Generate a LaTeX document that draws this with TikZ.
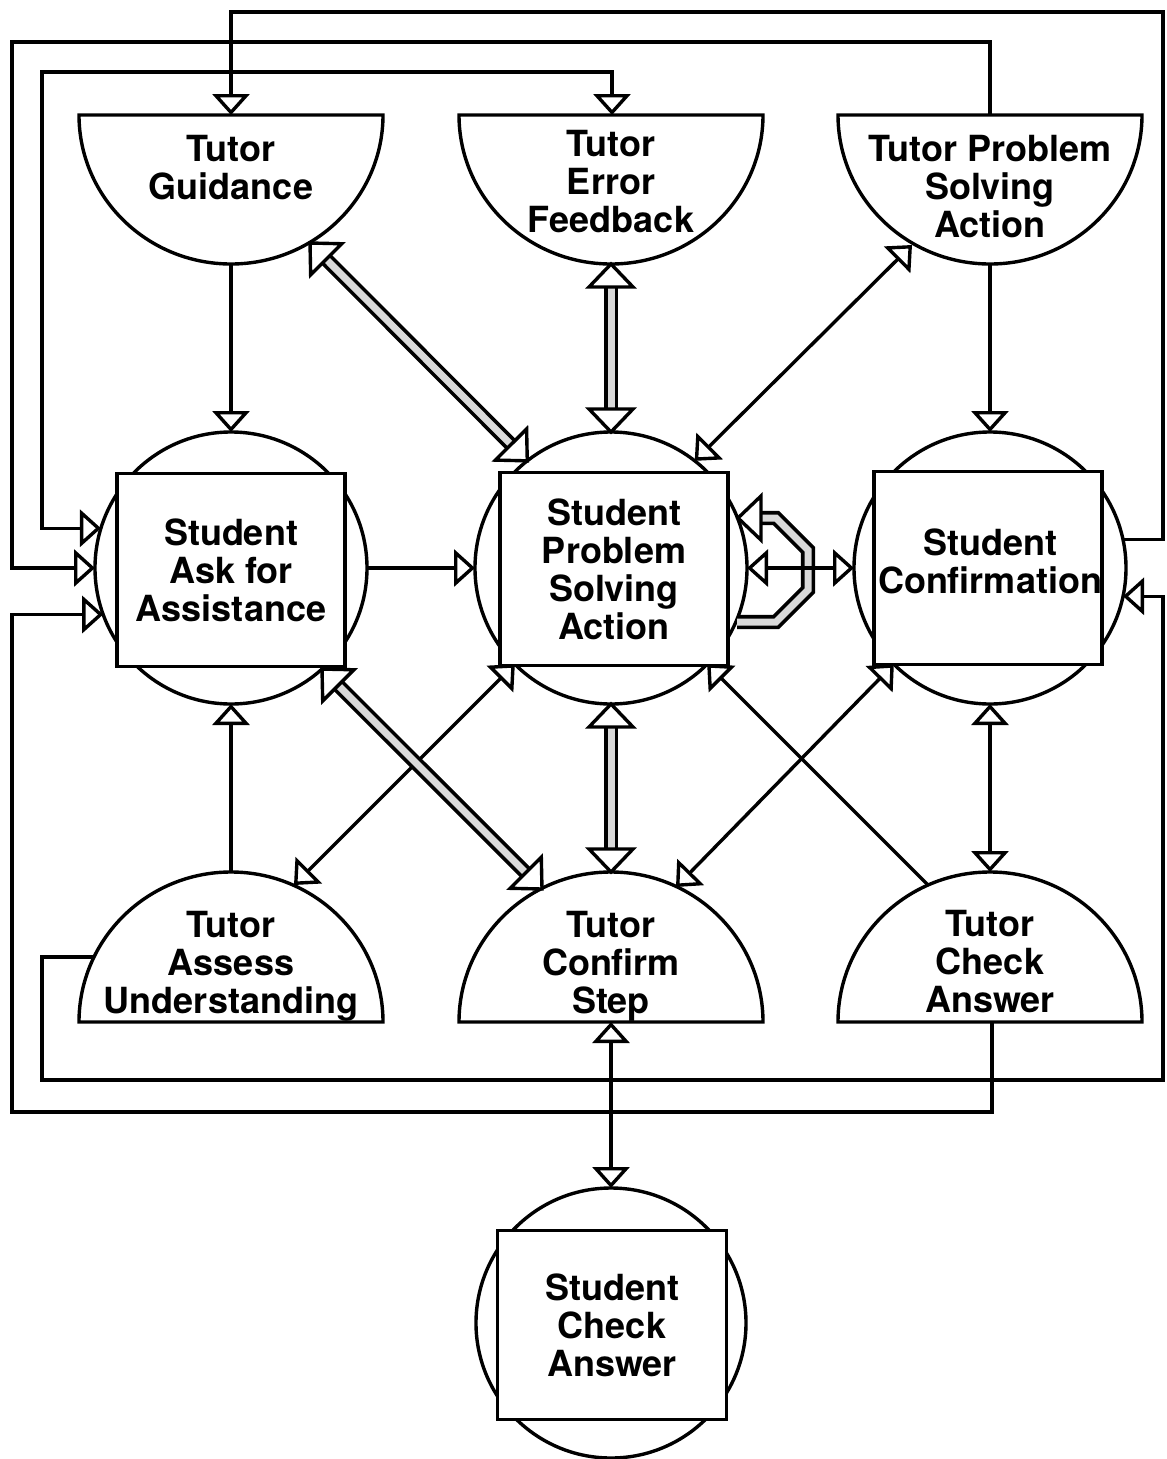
\documentclass[tikz,border=0pt]{standalone}
\usepackage{fontspec}
\setmainfont{TeX Gyre Heros}
\usetikzlibrary{arrows.meta,calc}
\newcommand{\dbltip}[2]{%
  \coordinate (dtB) at ($(#1)!23pt!(#2)$);
  \draw[line width=3.4pt, fill=white, line join=miter]
    (#1) -- ($(dtB)!22pt!90:(#1)$) -- ($(dtB)!22pt!-90:(#1)$) -- cycle;}
\newcommand{\dblconn}[2]{%
  \draw[dbl, shorten <=22pt, shorten >=22pt] (#1) -- (#2);
  \dbltip{#1}{#2}\dbltip{#2}{#1}}
\newcommand{\tophalf}[1]{%
  \draw[ln, fill=white] ($(#1)+(-152,0)$) -- ($(#1)+(152,0)$)
    arc[start angle=0, end angle=-180, x radius=152pt, y radius=149pt] -- cycle;}
\newcommand{\bothalf}[1]{%
  \draw[ln, fill=white] ($(#1)+(-152,0)$) -- ($(#1)+(152,0)$)
    arc[start angle=0, end angle=180, x radius=152pt, y radius=150pt] -- cycle;}
\begin{document}
\begin{tikzpicture}[x=1pt,y=-1pt,
  tri/.tip={Triangle[length=21pt,width=37pt,fill=white,line width=3.4pt]},
  ln/.style={line width=3.4pt, line join=miter},
  arr/.style={ln,-tri},
  barr/.style={ln,tri-tri},
  dbl/.style={line width=3.6pt, double=gray!30, double distance=7pt, line join=miter},
  lbl/.style={font=\fontsize{36}{38}\selectfont\bfseries, align=center, inner sep=0pt},
  scirc/.style={circle, draw, line width=3.4pt, minimum size=272pt, inner sep=0pt, outer sep=0pt},
  sbox/.style={rectangle, draw, fill=white, line width=3.4pt, minimum width=228pt,
    minimum height=193pt, inner sep=0pt, align=center, font=\fontsize{36}{38}\selectfont\bfseries},
]
\useasboundingbox (0,0) rectangle (1167,1459);

% tutor shapes (top row)
\tophalf{231,115}
\tophalf{611,115}
\tophalf{990,115}
\node[lbl] (tg) at (231,168) {Tutor\\Guidance};
\node[lbl] (tef) at (611,182) {Tutor\\Error\\Feedback};
\node[lbl] (tps) at (990,187) {Tutor Problem\\Solving\\Action};
% tutor shapes (bottom row)
\bothalf{231,1022}
\bothalf{611,1022}
\bothalf{990,1022}
\node[lbl] (tau) at (231,966) {Tutor\\Assess\\Understanding};
\node[lbl] (tcs) at (611,966) {Tutor\\Confirm\\Step};
\node[lbl] (tca) at (990,962) {Tutor\\Check\\Answer};

% student shapes
\node[scirc] (saaC) at (231,568) {};
\node[sbox] (saa) at (231,570) {Student\\Ask for\\Assistance};
\node[scirc] (spsC) at (611,568) {};
\node[sbox] (sps) at (614,569) {Student\\Problem\\Solving\\Action};
\node[scirc] (scC) at (990,568) {};
\node[sbox] (sc) at (988,568) {};
\node[lbl] (scl) at (990,561) {Student\\Confirmation};
\node[scirc, minimum size=270pt] (scaC) at (611,1323) {};
\node[sbox, minimum width=229pt, minimum height=189pt] (sca) at (612,1325) {Student\\Check\\Answer};

% attachment points on the half shapes
\coordinate (tgT) at (231,115);
\coordinate (tgB) at (231,264);
\coordinate (tgD) at (310,243);
\coordinate (tefT) at (612,115);
\coordinate (tefB) at (611,264);
\coordinate (tpsT) at (990,115);
\coordinate (tpsB) at (990,264);
\coordinate (tpsD) at (912,245);
\coordinate (tauT) at (231,872);
\coordinate (tauD) at (294,885);
\coordinate (tauL) at (94,957);
\coordinate (tcsT) at (611,872);
\coordinate (tcsB) at (611,1022);
\coordinate (tcsDL) at (542,889);
\coordinate (tcsDR) at (676,887);
\coordinate (tcaT) at (990,872);
\coordinate (tcaB) at (992,1022);
\coordinate (tcaD) at (928,885);

% outer feedback lines
\draw[arr] (scC.12) -| (1163,12) -| (tgT);
\draw[arr] (tpsT) |- (12,42) |- (saaC.180);
\draw[barr] (tefT) |- (42,72) |- (saaC.163);
\draw[arr] (tcaB) |- (12,1112) |- (saaC.200);
\draw[arr] (tauL) -| (42,1080) -- (1163,1080) |- (scC.348);

% vertical and horizontal single connectors
\draw[arr] (tgB) -- (saaC.north);
\draw[arr] (tpsB) -- (scC.north);
\draw[arr] (tauT) -- (saaC.south);
\draw[barr] (scC.south) -- (tcaT);
\draw[arr] (saaC.east) -- (spsC.west);
\draw[barr] (tcsB) -- (scaC.north);

% diagonal single connectors
\draw[barr] (spsC.52) -- (tpsD);
\draw[barr] (spsC.225) -- (tauD);
\draw[arr] (tcaD) -- (spsC.315);
\draw[barr] (scC.225) -- (tcsDR);

% double connectors
\dblconn{tgD}{spsC.128}
\dblconn{tefB}{spsC.north}
\dblconn{saaC.312}{tcsDL}
\dblconn{spsC.south}{tcsT}

% self loop on Student Problem Solving Action
\coordinate (lpS) at (737,622);
\coordinate (lp1) at (776,622);
\coordinate (lp2) at (808,590);
\coordinate (lp3) at (808,550);
\coordinate (lp4) at (776,518);
\coordinate (lpE) at (738,518);
\draw[dbl, shorten >=22pt] (lpS) -- (lp1) -- (lp2) -- (lp3) -- (lp4) -- (lpE);
\dbltip{lpE}{lp4}

\draw[barr] (spsC.east) -- (scC.west);
\end{tikzpicture}
\end{document}
